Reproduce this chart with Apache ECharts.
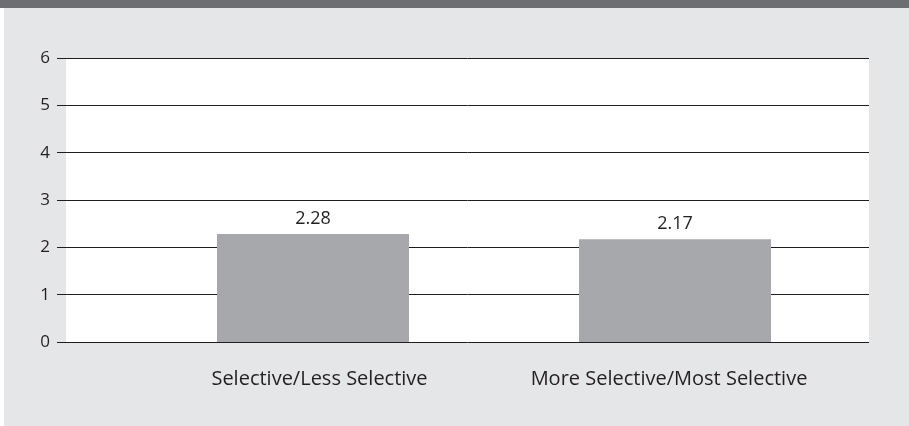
<!DOCTYPE html>
<html>
<head>
<meta charset="utf-8">
<script src="https://cdn.jsdelivr.net/npm/echarts@6/dist/echarts.min.js"></script>
<style>
  html, body { margin: 0; padding: 0; background: #ffffff; }
  #chart { width: 909px; height: 426px; }
</style>
</head>
<body>
<div id="chart"></div>
<script>
// Average score by admissions selectivity
const categories = ['Selective/Less Selective', 'More Selective/Most Selective'];
const values = [2.28, 2.17];
const yMin = 0;
const yMax = 6;
const yStep = 1;

const FONT = '"Open Sans", sans-serif';
const TEXT = '#231f20';

const chart = echarts.init(document.getElementById('chart'), null, { renderer: 'canvas' });

chart.setOption({
  backgroundColor: 'transparent',
  animation: false,
  graphic: [
    { type: 'rect', z: -10, shape: { x: 4, y: 8, width: 905, height: 418 }, style: { fill: '#e5e6e8' } },
    { type: 'rect', z: -10, shape: { x: 0, y: 0, width: 909, height: 8 }, style: { fill: '#6d6e72' } }
  ],
  grid: [
    // plotting panel with the value scale and rules
    { left: 66, right: 40, top: 58, bottom: 84, show: true, backgroundColor: '#ffffff', borderWidth: 0 },
    // bars and category names
    { left: 132, right: 53, top: 58, bottom: 84 }
  ],
  xAxis: [
    { gridIndex: 0, type: 'category', data: categories, show: false },
    {
      gridIndex: 1, type: 'category', data: categories,
      axisLine: { show: false }, axisTick: { show: false },
      axisLabel: {
        interval: 0, hideOverlap: false,
        margin: 27, fontFamily: FONT, fontSize: 20, color: TEXT,
        // names sit slightly toward the middle of the chart
        formatter: (v, i) => (i === 0 ? '{l|' : '{r|') + v + '}',
        rich: {
          l: { fontFamily: FONT, fontSize: 20, color: TEXT, padding: [0, 0, 0, 13] },
          r: { fontFamily: FONT, fontSize: 20, color: TEXT, padding: [0, 12, 0, 0] }
        }
      }
    }
  ],
  yAxis: [
    {
      gridIndex: 0, type: 'value', min: yMin, max: yMax, interval: yStep,
      axisLine: { show: false },
      axisTick: { show: true, length: 9, lineStyle: { color: '#1e1e1e', width: 1 } },
      axisLabel: { margin: 16, fontFamily: FONT, fontSize: 17, color: TEXT },
      splitLine: { show: true, lineStyle: { color: '#1e1e1e', width: 1 } }
    },
    { gridIndex: 1, type: 'value', min: yMin, max: yMax, interval: yStep, show: false, splitLine: { show: false } }
  ],
  series: [{
    type: 'bar',
    xAxisIndex: 1,
    yAxisIndex: 1,
    data: values,
    barWidth: 192,
    itemStyle: { color: '#a7a8ab' },
    label: {
      show: true, position: 'top', distance: 6,
      fontFamily: FONT, fontSize: 18, color: TEXT,
      formatter: p => p.value.toFixed(2)
    }
  }]
});
</script>
</body>
</html>
